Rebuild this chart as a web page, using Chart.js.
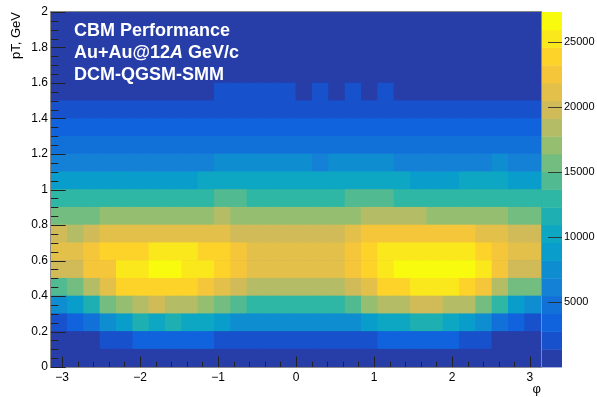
<!DOCTYPE html>
<html><head><meta charset="utf-8">
<script src="https://cdn.jsdelivr.net/npm/chart.js@4/dist/chart.umd.min.js"></script>
<style>html,body{margin:0;padding:0;background:#fff}#wrap{width:597px;height:397px}</style>
</head><body><div id="wrap"><canvas id="c" width="597" height="397"></canvas></div>
<script>
// ---------- data ----------
const phiMin = -Math.PI, phiMax = Math.PI;   // x range (phi)
const nPhiBins = 30;
const ptEdges = [0,0.1,0.2,0.3,0.4,0.5,0.6,0.7,0.8,0.9,1.0,1.1,1.2,1.3,1.4,1.5,1.6];
const zMax = 27285;      // colour-axis maximum
const nLevels = 20;      // colour contours

// counts per phi bin for each pT row (row00 = 0-0.1 GeV ... row15 = 1.5-1.6 GeV)
const row00 = [380,400,430,450,470,500,520,530,540,540,530,510,500,490,480,480,490,500,520,540,550,560,550,530,510,480,450,420,400,380];
const row01 = [1250,1300,1340,1900,2300,2900,3300,3500,3300,2900,2600,2200,1900,1800,1700,1700,1800,1900,2200,2600,2900,3300,3500,3300,2900,2500,1900,1340,1300,1250];
const row02 = [2500,3700,5000,7900,9200,11100,10800,11300,10600,10100,8900,7800,7400,7100,7000,7000,7200,7600,8000,9000,10200,10800,11400,11500,10500,9300,7900,4900,3600,2400];
const row03 = [7700,9100,11800,15600,17200,18600,19500,18900,18300,17100,15800,14100,13200,12800,12700,12700,12900,13300,14200,17000,18500,18900,19600,19700,18800,18200,15500,12900,8900,7600];
const row04 = [14500,15900,18600,21200,23600,24100,24300,24200,23800,22700,21300,19900,18700,18300,18100,18100,18400,18800,19800,21400,23900,24400,24900,25200,24800,24000,22600,18500,15700,15200];
const row05 = [19800,20300,22300,22900,25000,25700,26600,26400,25600,24900,23900,22600,21500,21000,20800,20800,21100,21600,22700,24200,25500,26200,26900,27285,27000,26300,25100,22500,20100,19700];
const row06 = [20900,21400,22700,23700,24100,24400,25000,25300,24900,24300,23600,22300,21300,20900,20700,20700,20900,21400,22400,24000,24900,25400,25600,25700,25500,24900,24100,22800,21600,21000];
const row07 = [19300,18900,19600,20700,21000,21200,21400,21500,21400,21200,20900,20200,19800,19600,19500,19500,19600,19900,21000,22000,22400,22700,22900,22900,22600,22100,21300,20800,20000,19500];
const row08 = [15600,16000,16200,16700,16900,17100,17200,17300,17300,17400,17800,17500,17200,17000,16900,16900,17000,17200,17600,17900,18200,18300,18000,17600,17400,17200,17000,16600,16200,15800];
const row09 = [12500,12700,12800,12900,13000,13100,13200,13300,13400,13500,13700,13800,13400,13200,13100,13100,13200,13500,13800,14000,13800,13500,13300,13200,13100,13000,12900,12800,12600,12400];
const row10 = [8900,9000,9100,9200,9300,9300,9400,9400,9500,9600,9700,9800,9700,9600,9600,9600,9700,9800,9900,9800,9700,9600,9500,9400,9500,9600,9700,9600,9400,9200];
const row11 = [6200,6300,6400,6400,6500,6500,6600,6600,6700,6800,6900,7000,7000,6900,6900,6850,6800,6900,7000,7000,6900,6800,6700,6700,6700,6750,6800,6850,6700,6500];
const row12 = [4500,4550,4600,4650,4700,4750,4800,4850,4900,4950,5000,5050,5050,5000,4950,4950,5000,5050,5050,5000,4950,4900,4850,4800,4800,4850,4850,4750,4650,4550];
const row13 = [3200,3250,3300,3350,3400,3450,3500,3550,3600,3650,3700,3700,3650,3650,3600,3600,3650,3650,3700,3700,3650,3600,3550,3500,3500,3450,3400,3350,3300,3250];
const row14 = [2200,2250,2300,2300,2350,2400,2400,2450,2500,2500,2550,2550,2500,2500,2500,2500,2500,2550,2550,2550,2500,2450,2450,2400,2400,2350,2300,2300,2250,2200];
const row15 = [1100,1120,1150,1180,1200,1230,1260,1290,1320,1350,1380,1400,1410,1400,1390,1360,1370,1355,1375,1350,1368,1340,1320,1300,1280,1250,1220,1200,1170,1140];
const ptRows = [row00,row01,row02,row03,row04,row05,row06,row07,row08,row09,row10,row11,row12,row13,row14,row15];

// tick labels
const xTickValues = [-3,-2,-1,0,1,2,3];
const xTickLabels = ['\u22123','\u22122','\u22121','0','1','2','3'];
const yTickValues = [0,0.2,0.4,0.6,0.8,1,1.2,1.4,1.6,1.8,2];
const yTickLabels = ['0','0.2','0.4','0.6','0.8','1','1.2','1.4','1.6','1.8','2'];
const zTickValues = [5000,10000,15000,20000,25000];
const zTickLabels = ['5000','10000','15000','20000','25000'];
const textLines = ['CBM Performance', 'DCM-QGSM-SMM'];

// ---------- palette (ROOT kBird) ----------
const birdStops = [0.0,0.125,0.25,0.375,0.5,0.625,0.75,0.875,1.0];
const birdR = [0.2082,0.0592,0.0780,0.0232,0.1802,0.5301,0.8186,0.9956,0.9764];
const birdG = [0.1664,0.3599,0.5041,0.6419,0.7178,0.7492,0.7328,0.7862,0.9832];
const birdB = [0.5293,0.8684,0.8385,0.7914,0.6425,0.4662,0.3499,0.1968,0.0539];
function bird(f){
  let s = 0; while (s < birdStops.length-2 && f > birdStops[s+1]) s++;
  const t = (f - birdStops[s])/(birdStops[s+1]-birdStops[s]);
  const c = a => Math.round(255*(a[s] + (a[s+1]-a[s])*t));
  return 'rgb(' + c(birdR) + ',' + c(birdG) + ',' + c(birdB) + ')';
}
const levelColors = [];
for (let i = 0; i < nLevels; i++) {
  const idx = Math.floor((i + 0.99) * 255 / nLevels);
  levelColors.push(bird(idx / 254));
}
const dz = zMax / nLevels;
function levelColor(v){ return levelColors[Math.max(0, Math.min(nLevels-1, Math.floor(v / dz)))]; }

const binW = (phiMax - phiMin) / nPhiBins;
const datasets = ptRows.map((row, r) => ({
  data: row.map((v, k) => ({x: phiMin + (k + 0.5) * binW, y: [ptEdges[r], ptEdges[r+1]], v})),
  backgroundColor: row.map(levelColor),
  borderWidth: 0,
  barPercentage: 1,
  categoryPercentage: 1,
  grouped: false,
  xAxisID: 'x', yAxisID: 'y'
}));

const FONT = '"Liberation Sans", Arial, Helvetica, sans-serif';

const rootPlugin = {
  id: 'rootStyle',
  beforeDatasetsDraw(chart) {
    const {ctx, chartArea: a} = chart;
    ctx.save();
    ctx.fillStyle = levelColors[0];
    ctx.fillRect(a.left, a.top, a.right - a.left, a.bottom - a.top);
    ctx.restore();
  },
  afterDatasetsDraw(chart) {
    const {ctx, chartArea: a, scales} = chart;
    const xs = scales.x, ys = scales.y, zs = scales.zAxis;
    ctx.save();
    // frame
    ctx.strokeStyle = '#8a8a8a'; ctx.lineWidth = 1;
    ctx.strokeRect(a.left - 0.5, a.top - 0.5, a.right - a.left + 1, a.bottom - a.top + 1);
    // x ticks (inside)
    ctx.strokeStyle = '#222';
    ctx.beginPath();
    for (let i = -15; i <= 15; i++) {
      const v = i * 0.2;
      const px = Math.round(xs.getPixelForValue(v)) + 0.5;
      const len = (i % 5 === 0) ? 10.5 : 5.3;
      ctx.moveTo(px, a.bottom); ctx.lineTo(px, a.bottom - len);
    }
    // y ticks (inside)
    for (let i = 0; i <= 40; i++) {
      const v = i * 0.05;
      const py = Math.round(ys.getPixelForValue(v)) + 0.5;
      const len = (i % 4 === 0) ? 14.7 : 7.3;
      ctx.moveTo(a.left, py); ctx.lineTo(a.left + len, py);
    }
    ctx.stroke();
    // colour bar
    const cbL = a.right + 1, cbR = a.right + 21;
    for (let i = 0; i < nLevels; i++) {
      const y0 = zs.getPixelForValue(i * dz), y1 = zs.getPixelForValue((i + 1) * dz);
      ctx.fillStyle = levelColors[i];
      ctx.fillRect(cbL, y1, cbR - cbL, y0 - y1 + 0.4);
    }
    ctx.strokeStyle = 'rgba(40,40,40,0.85)';
    ctx.beginPath();
    zTickValues.forEach(v => {
      const py = Math.round(zs.getPixelForValue(v)) + 0.5;
      ctx.moveTo(cbR, py); ctx.lineTo(cbR - 14, py);
    });
    ctx.stroke();
    // text
    ctx.fillStyle = '#fff';
    ctx.textBaseline = 'alphabetic';
    const f = 'bold 18px ' + FONT, fi = 'italic bold 18px ' + FONT;
    ctx.font = f;
    ctx.fillText(textLines[0], 74, 36);
    let x = 74;
    const parts = [['Au+Au@12', f], ['A', fi], [' GeV/c', f]];
    parts.forEach(([t, ff]) => { ctx.font = ff; ctx.fillText(t, x, 58); x += ctx.measureText(t).width; });
    ctx.font = f;
    ctx.fillText(textLines[1], 74, 80);
    ctx.restore();
  }
};

new Chart(document.getElementById('c'), {
  type: 'bar',
  data: { datasets },
  options: {
    responsive: false,
    devicePixelRatio: 1,
    animation: false,
    events: [],
    layout: { padding: { top: 12, left: 0, right: 0, bottom: 0 } },
    plugins: { legend: { display: false }, tooltip: { enabled: false } },
    scales: {
      x: {
        type: 'linear', position: 'bottom', min: phiMin, max: phiMax, offset: false,
        grid: { display: false, drawTicks: false, offset: false }, border: { display: false },
        afterBuildTicks: s => { s.ticks = xTickValues.map(v => ({value: v})); },
        afterFit: s => { s.height = 30; },
        ticks: { autoSkip: false, maxRotation: 0, padding: 3, color: '#000',
          font: { family: FONT, size: 12 }, callback: (v, i) => xTickLabels[i] },
        title: { display: true, text: '\u03c6', align: 'end', color: '#000',
          font: { family: FONT, size: 13 }, padding: { top: 0, bottom: 0 } }
      },
      y: {
        type: 'linear', position: 'left', min: 0, max: 2,
        grid: { display: false, drawTicks: false }, border: { display: false },
        afterBuildTicks: s => { s.ticks = yTickValues.map(v => ({value: v})); },
        afterFit: s => { s.width = 51; },
        ticks: { autoSkip: false, padding: 3, color: '#000',
          font: { family: FONT, size: 12 }, callback: (v, i) => yTickLabels[i] },
        title: { display: true, text: 'pT, GeV', align: 'end', color: '#000',
          font: { family: FONT, size: 13 }, padding: { top: 9, bottom: 0 } }
      },
      zAxis: {
        type: 'linear', axis: 'y', position: 'right', display: true, min: 0, max: zMax,
        grid: { display: false, drawTicks: true, tickLength: 21 }, border: { display: false },
        afterBuildTicks: s => { s.ticks = zTickValues.map(v => ({value: v})); },
        afterFit: s => { s.width = 56; },
        ticks: { autoSkip: false, padding: 2, color: '#000',
          font: { family: FONT, size: 11 }, callback: (v, i) => zTickLabels[i] }
      }
    }
  },
  plugins: [rootPlugin]
});
</script>
</body></html>
